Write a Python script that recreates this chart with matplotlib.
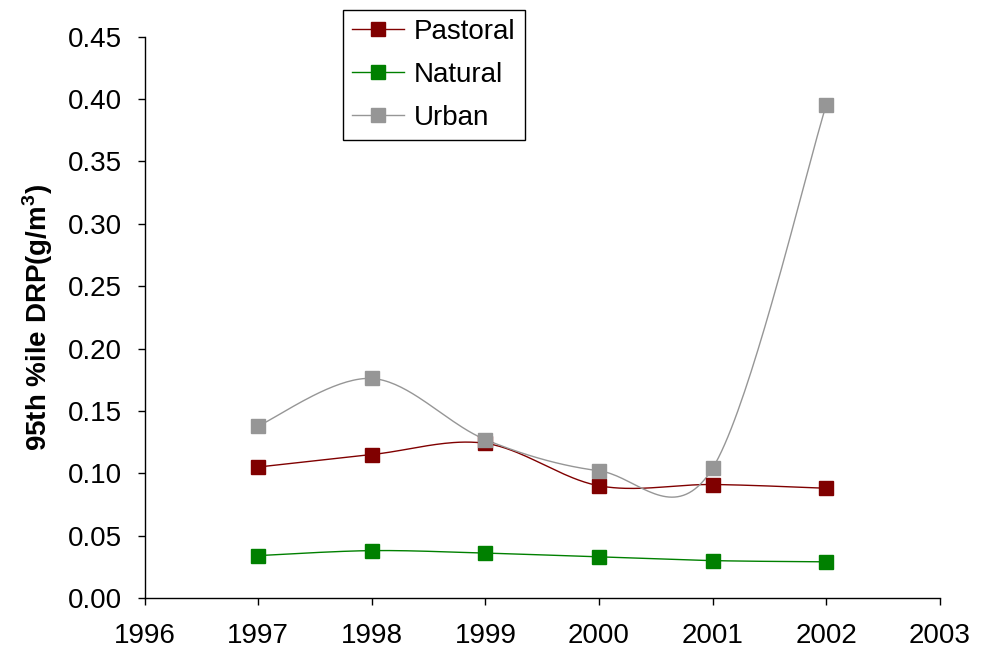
import numpy as np
import matplotlib
matplotlib.use("Agg")
import matplotlib.pyplot as plt

plt.rcParams['font.family'] = ['Liberation Sans', 'DejaVu Sans']
plt.rcParams['mathtext.fontset'] = 'custom'
plt.rcParams['mathtext.rm'] = 'Liberation Sans'
plt.rcParams['mathtext.bf'] = 'Liberation Sans:bold'

years = [1997, 1998, 1999, 2000, 2001, 2002]
pastoral = [0.105, 0.115, 0.124, 0.090, 0.091, 0.088]
natural = [0.034, 0.038, 0.036, 0.033, 0.030, 0.029]
urban = [0.138, 0.176, 0.127, 0.102, 0.104, 0.395]

series = [("Pastoral", pastoral, "#800000", "#800000"),
          ("Natural", natural, "#008000", "#008000"),
          ("Urban", urban, "#969696", "#969696")]


def smooth(x, y, n=40):
    x = np.asarray(x, float)
    y = np.asarray(y, float)
    P = np.column_stack([x, y])
    Pext = np.vstack([P[0], P, P[-1]])
    out = []
    t = np.linspace(0, 1, n)
    for i in range(len(P) - 1):
        p0, p1, p2, p3 = Pext[i], Pext[i + 1], Pext[i + 2], Pext[i + 3]
        c1 = p1 + (p2 - p0) / 6.0
        c2 = p2 - (p3 - p1) / 6.0
        seg = ((1 - t) ** 3)[:, None] * p1 + (3 * (1 - t) ** 2 * t)[:, None] * c1 \
            + (3 * (1 - t) * t ** 2)[:, None] * c2 + (t ** 3)[:, None] * p2
        out.append(seg if i == 0 else seg[1:])
    s = np.vstack(out)
    return s[:, 0], s[:, 1]


fig = plt.figure(figsize=(9.84, 6.55), dpi=100)
ax = fig.add_axes([0.147, 0.087, 0.808, 0.857])

for name, vals, lc, mc in series:
    sx, sy = smooth(years, vals)
    ax.plot(sx, sy, color=lc, lw=1.0, zorder=2)
    ax.plot(years, vals, linestyle='none', marker='s', markersize=10,
            markerfacecolor=mc, markeredgecolor=mc, zorder=3)
    ax.plot([], [], color=lc, lw=1.0, marker='s', markersize=10,
            markerfacecolor=mc, markeredgecolor=mc, label=name)

ax.set_xlim(1996, 2003)
ax.set_ylim(0, 0.45)
ax.set_xticks(range(1996, 2004))
ax.set_yticks(np.arange(0, 0.451, 0.05))
ax.set_yticklabels([f"{v:.2f}" for v in np.arange(0, 0.451, 0.05)])
ax.tick_params(axis='both', labelsize=20, direction='out', length=5, width=1, colors='black')
ax.tick_params(axis='x', pad=13)
ax.tick_params(axis='y', pad=11.5)
for s in ['top', 'right']:
    ax.spines[s].set_visible(False)
for s in ['left', 'bottom']:
    ax.spines[s].set_linewidth(1.0)

ax.set_ylabel(r"95th %ile DRP(g/m$^{\mathbf{3}}$)", fontsize=20, fontweight='bold', labelpad=9)

leg = ax.legend(loc='upper left', bbox_to_anchor=(0.249, 1.047), borderaxespad=0,
                fontsize=20, frameon=True, fancybox=False, edgecolor='black', framealpha=1,
                handlelength=1.9, borderpad=0.32, labelspacing=0.61, handletextpad=0.35)
leg.get_frame().set_linewidth(1.0)

fig.savefig("out.png", dpi=100)
